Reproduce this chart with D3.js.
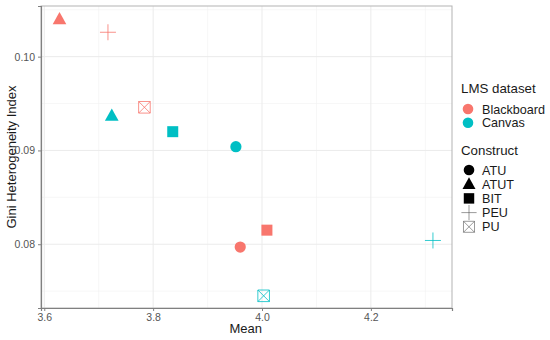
<!DOCTYPE html>
<html>
<head>
<meta charset="utf-8">
<script src="https://cdn.jsdelivr.net/npm/d3@7"></script>
<style>
  body { margin: 0; background: #fff; }
  text { font-family: "Liberation Sans", Arial, sans-serif; }
</style>
</head>
<body>
<div id="chart"></div>
<script>
// data
var datasets = ["Blackboard", "Canvas"];
var constructs = ["ATU", "ATUT", "BIT", "PEU", "PU"];
var blackboardMean = [3.960, 3.628, 4.009, 3.717, 3.784];
var blackboardGini = [0.0797, 0.1040, 0.0815, 0.1026, 0.0946];
var canvasMean = [3.952, 3.724, 3.836, 4.314, 4.003];
var canvasGini = [0.0904, 0.0937, 0.0920, 0.0804, 0.0745];
var xTicks = [3.6, 3.8, 4.0, 4.2];
var yTicks = [0.08, 0.09, 0.10];

var colors = {"Blackboard": "#F8766D", "Canvas": "#00BFC4"};

var points = [];
constructs.forEach(function(c, i) {
  points.push({set: "Blackboard", construct: c, mean: blackboardMean[i], gini: blackboardGini[i]});
  points.push({set: "Canvas", construct: c, mean: canvasMean[i], gini: canvasGini[i]});
});

var W = 550, H = 340;
var margin = {top: 6, right: 98, bottom: 32, left: 41};
var width = W - margin.left - margin.right,
    height = H - margin.top - margin.bottom;

var svg = d3.select("#chart").append("svg")
    .attr("width", W)
    .attr("height", H);

var g = svg.append("g")
    .attr("transform", "translate(" + margin.left + "," + margin.top + ")");

var x = d3.scaleLinear().domain([3.594, 4.349]).range([0, width]);
var y = d3.scaleLinear().domain([0.0732, 0.1054]).range([height, 0]);

// grid
var xMinor = [3.7, 3.9, 4.1, 4.3];
var yMinor = [0.075, 0.085, 0.095, 0.105];
g.selectAll(".gminx").data(xMinor).enter().append("line")
    .attr("x1", x).attr("x2", x).attr("y1", 0).attr("y2", height)
    .attr("stroke", "#f2f2f2").attr("stroke-width", 0.6);
g.selectAll(".gminy").data(yMinor).enter().append("line")
    .attr("y1", y).attr("y2", y).attr("x1", 0).attr("x2", width)
    .attr("stroke", "#f2f2f2").attr("stroke-width", 0.6);
g.selectAll(".gx").data(xTicks).enter().append("line")
    .attr("x1", x).attr("x2", x).attr("y1", 0).attr("y2", height)
    .attr("stroke", "#ebebeb").attr("stroke-width", 1);
g.selectAll(".gy").data(yTicks).enter().append("line")
    .attr("y1", y).attr("y2", y).attr("x1", 0).attr("x2", width)
    .attr("stroke", "#ebebeb").attr("stroke-width", 1);

// panel border
g.append("rect").attr("width", width).attr("height", height)
    .attr("fill", "none").attr("stroke", "#b3b3b3").attr("stroke-width", 1);

// axes
var xAxis = g.append("g")
    .attr("transform", "translate(0," + height + ")")
    .call(d3.axisBottom(x).tickValues(xTicks).tickFormat(d3.format(".1f")).tickSize(3).tickPadding(3));
var yAxis = g.append("g")
    .call(d3.axisLeft(y).tickValues(yTicks).tickFormat(d3.format(".2f")).tickSize(3).tickPadding(3));
[xAxis, yAxis].forEach(function(a) {
  a.select(".domain").attr("stroke", "#808080").attr("stroke-width", 1.2);
  a.selectAll(".tick line").attr("stroke", "#808080");
  a.selectAll(".tick text").attr("fill", "#555").style("font-size", "10.5px");
});

svg.append("text")
    .attr("x", margin.left + x(3.97)).attr("y", 333)
    .attr("text-anchor", "middle").style("font-size", "13px").attr("fill", "#1a1a1a")
    .text("Mean");
svg.append("text")
    .attr("transform", "translate(16," + 157 + ") rotate(-90)")
    .attr("text-anchor", "middle").style("font-size", "13px").attr("fill", "#1a1a1a")
    .text("Gini Heterogeneity Index");

// shapes
function drawShape(sel, shape, color, s, sw) {
  if (shape === "ATU") {
    sel.append("circle").attr("r", 5.6 * s).attr("fill", color);
  } else if (shape === "ATUT") {
    var h = 7.2 * s;
    sel.append("path").attr("d", "M0," + (-h) + "L" + (h * 0.95) + "," + (h * 0.7) + "L" + (-h * 0.95) + "," + (h * 0.7) + "Z")
      .attr("fill", color);
  } else if (shape === "BIT") {
    var r = 5.5 * s;
    sel.append("rect").attr("x", -r).attr("y", -r).attr("width", 2 * r).attr("height", 2 * r).attr("fill", color);
  } else if (shape === "PEU") {
    var p = 8 * s;
    sel.append("path").attr("d", "M" + (-p) + ",0H" + p + "M0," + (-p) + "V" + p)
      .attr("stroke", color).attr("stroke-width", sw).attr("fill", "none");
  } else if (shape === "PU") {
    var q = 5.8 * s;
    sel.append("path").attr("d", "M" + (-q) + "," + (-q) + "H" + q + "V" + q + "H" + (-q) + "Z" +
        "M" + (-q) + "," + (-q) + "L" + q + "," + q + "M" + q + "," + (-q) + "L" + (-q) + "," + q)
      .attr("stroke", color).attr("stroke-width", sw).attr("fill", "none");
  }
}

g.selectAll(".pt").data(points).enter().append("g")
    .attr("transform", function(d) { return "translate(" + x(d.mean) + "," + y(d.gini) + ")"; })
    .each(function(d) { drawShape(d3.select(this), d.construct, colors[d.set], 1, 0.8); });

// legend
var lg = svg.append("g").attr("transform", "translate(461,0)");
lg.append("text").attr("x", 0).attr("y", 93).style("font-size", "13.3px").attr("fill", "#1a1a1a").text("LMS dataset");
datasets.forEach(function(ds, i) {
  var yy = 109 + i * 13.7;
  lg.append("circle").attr("cx", 7).attr("cy", yy).attr("r", 5.3).attr("fill", colors[ds]);
  lg.append("text").attr("x", 21).attr("y", yy + 4.5).style("font-size", "12.6px").attr("fill", "#1a1a1a").text(ds);
});
lg.append("text").attr("x", 0).attr("y", 155).style("font-size", "13.3px").attr("fill", "#1a1a1a").text("Construct");
constructs.forEach(function(c, i) {
  var yy = 170 + i * 14.2;
  var sg = lg.append("g").attr("transform", "translate(8," + yy + ")");
  drawShape(sg, c, c === "PEU" || c === "PU" ? "#555" : "#000", 0.95, 0.6);
  lg.append("text").attr("x", 21).attr("y", yy + 4.5).style("font-size", "12.6px").attr("fill", "#1a1a1a").text(c);
});
</script>
</body>
</html>
